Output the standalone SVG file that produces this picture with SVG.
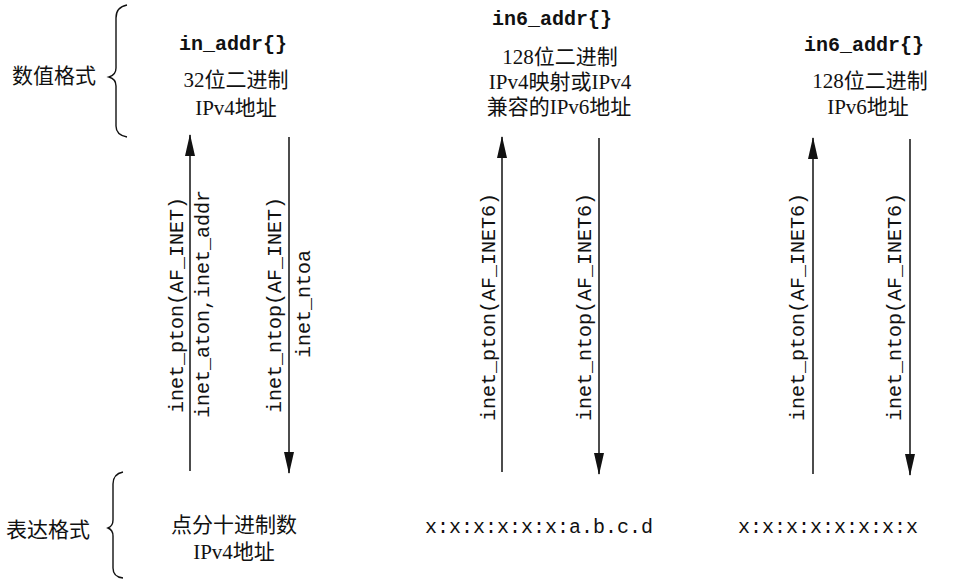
<svg xmlns="http://www.w3.org/2000/svg" width="964" height="582" viewBox="0 0 964 582">
<style>
.cj{font-family:"Liberation Serif","Noto Sans CJK SC",serif;font-size:21px;fill:#111;text-anchor:middle}
.hd{font-family:"Liberation Mono",monospace;font-size:20px;font-weight:bold;fill:#111;text-anchor:middle}
.mo{font-family:"Liberation Mono",monospace;font-size:20px;fill:#111;text-anchor:middle}
.lb{font-family:"Noto Sans CJK SC",serif;font-size:21px;fill:#111}
.ln{stroke:#111;stroke-width:1.5;fill:none}
.br{stroke:#111;stroke-width:1.4;fill:none}
</style>
<defs>
<marker id="arr" markerUnits="userSpaceOnUse" markerWidth="22" markerHeight="12" viewBox="0 0 22 12" refX="21" refY="6" orient="auto">
<path d="M0,1 L22,6 L0,11 Z" fill="#111"/>
</marker>
</defs>
<g id="label-numeric">
<text class="lb" x="12" y="83">数值格式</text>
<path class="br" d="M127,5 Q116,7 116,18 L116,68 Q116,75 109,77 Q116,79 116,86 L116,126 Q116,135 127,137"/>
</g>
<g id="label-presentation">
<text class="lb" x="6" y="537">表达格式</text>
<path class="br" d="M123,472 Q113,474 113,484 L113,520 Q113,526 108,528 Q113,530 113,536 L113,568 Q113,577 123,578"/>
</g>
<g id="node-in-addr">
<text class="hd" x="233" y="50">in_addr{}</text>
<text class="cj" x="236" y="87">32位二进制</text>
<text class="cj" x="236" y="115">IPv4地址</text>
</g>
<g id="node-in6-mapped">
<text class="hd" x="552" y="25">in6_addr{}</text>
<text class="cj" x="560" y="64">128位二进制</text>
<text class="cj" x="560" y="89">IPv4映射或IPv4</text>
<text class="cj" x="559" y="114">兼容的IPv6地址</text>
</g>
<g id="node-in6">
<text class="hd" x="864" y="51">in6_addr{}</text>
<text class="cj" x="870" y="88">128位二进制</text>
<text class="cj" x="868" y="114">IPv6地址</text>
</g>
<g id="node-dotted">
<text class="cj" x="234" y="532">点分十进制数</text>
<text class="cj" x="234" y="559">IPv4地址</text>
</g>
<g id="node-v6mapped-str">
<text class="mo" x="539" y="533">x:x:x:x:x:x:a.b.c.d</text>
</g>
<g id="node-v6-str">
<text class="mo" x="828" y="533">x:x:x:x:x:x:x:x</text>
</g>
<g id="connectors">
<line class="ln" x1="190" y1="471" x2="190" y2="135" marker-end="url(#arr)"/>
<line class="ln" x1="289" y1="137" x2="289" y2="473" marker-end="url(#arr)"/>
<line class="ln" x1="502" y1="472" x2="502" y2="137" marker-end="url(#arr)"/>
<line class="ln" x1="599" y1="138" x2="599" y2="474" marker-end="url(#arr)"/>
<line class="ln" x1="813" y1="474" x2="813" y2="138" marker-end="url(#arr)"/>
<line class="ln" x1="910" y1="139" x2="910" y2="475" marker-end="url(#arr)"/>
<text class="mo" transform="translate(183,305) rotate(-90)">inet_pton(AF_INET)</text>
<text class="mo" transform="translate(209,304) rotate(-90)">inet_aton,inet_addr</text>
<text class="mo" transform="translate(281,305) rotate(-90)">inet_ntop(AF_INET)</text>
<text class="mo" transform="translate(310,304) rotate(-90)">inet_ntoa</text>
<text class="mo" transform="translate(495,307) rotate(-90)">inet_pton(AF_INET6)</text>
<text class="mo" transform="translate(591,307) rotate(-90)">inet_ntop(AF_INET6)</text>
<text class="mo" transform="translate(804,307) rotate(-90)">inet_pton(AF_INET6)</text>
<text class="mo" transform="translate(901,307) rotate(-90)">inet_ntop(AF_INET6)</text>
</g>
</svg>
